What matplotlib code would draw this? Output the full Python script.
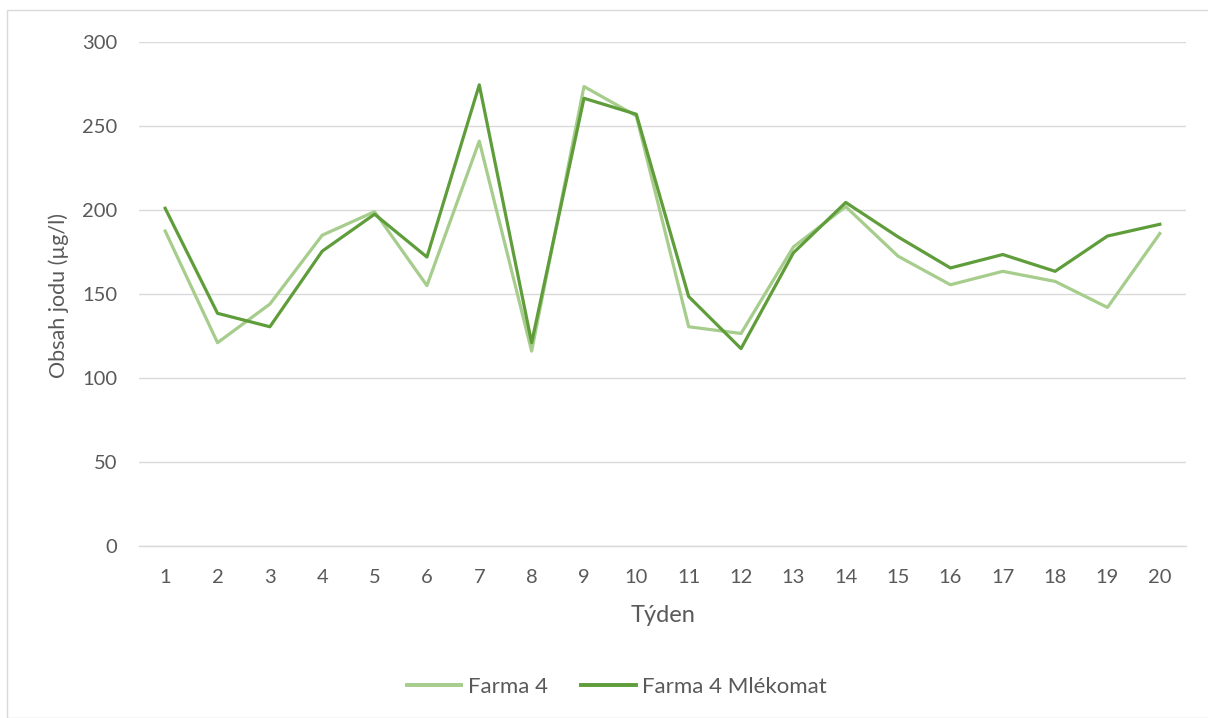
import matplotlib
matplotlib.use("Agg")
import matplotlib.pyplot as plt
from matplotlib.patches import Rectangle

weeks = list(range(1, 21))
farma4 = [187.5, 121, 144, 185, 199, 155, 241, 116, 273.5, 256,
          130.5, 126.5, 178, 202, 172.5, 155.5, 163.5, 157.5, 142, 186]
farma4_mlekomat = [201, 138.5, 130.5, 175.5, 197.5, 172, 274.5, 121, 266.5, 257,
                   148.5, 117.5, 174.5, 204.5, 184, 165.5, 173.5, 163.5, 184.5, 191.5]
series_names = ["Farma 4", "Farma 4 Mlékomat"]
yticks = [0, 50, 100, 150, 200, 250, 300]

plt.rcParams['font.family'] = ['Lato', 'DejaVu Sans']
text_color = "#595959"
light = "#A6CD8C"
dark = "#5F9D3B"

W, H = 1208, 718
fig = plt.figure(figsize=(W / 100, H / 100), dpi=100)
fig.patches.append(Rectangle((7 / W, 0), 1.0, 1 - 10 / H, transform=fig.transFigure,
                             fill=False, edgecolor="#D9D9D9", linewidth=1.0))
ax = fig.add_axes([139 / W, 1 - 546 / H, (1186 - 139) / W, (546 - 42) / H])

ax.plot(weeks, farma4, color=light, lw=2.3, label=series_names[0], solid_joinstyle='round', zorder=3)
ax.plot(weeks, farma4_mlekomat, color=dark, lw=2.3, label=series_names[1], solid_joinstyle='round', zorder=4)

ax.set_xlim(0.5, 20.5)
ax.set_ylim(0, 300)
ax.set_yticks(yticks)
ax.set_xticks(weeks)
ax.set_xticklabels([str(w) for w in weeks])
ax.yaxis.grid(True, color="#D9D9D9", lw=1.0)
ax.set_axisbelow(True)
for s in ["top", "right", "left"]:
    ax.spines[s].set_visible(False)
ax.spines["bottom"].set_color("#D9D9D9")
ax.spines["bottom"].set_linewidth(1.0)
ax.tick_params(axis="both", length=0, labelsize=14.5, colors=text_color)
ax.tick_params(axis="x", pad=16.5)
ax.tick_params(axis="y", pad=15.5)

fig.text(663 / W, 1 - 616 / H, "Týden", fontsize=17, color=text_color, ha="center", va="center")
fig.text(59 / W, 1 - 296 / H, "Obsah jodu (µg/l)", fontsize=15.5, color=text_color,
         ha="center", va="center", rotation=90)

leg = fig.legend(loc="center", bbox_to_anchor=(617 / W, 1 - 687 / H), ncol=2, frameon=False,
                 fontsize=16, handlelength=2.45, handletextpad=0.3, columnspacing=1.5)
for t in leg.get_texts():
    t.set_color(text_color)
for h in leg.get_lines():
    h.set_linewidth(2.8)

fig.savefig("out.png", dpi=100)
